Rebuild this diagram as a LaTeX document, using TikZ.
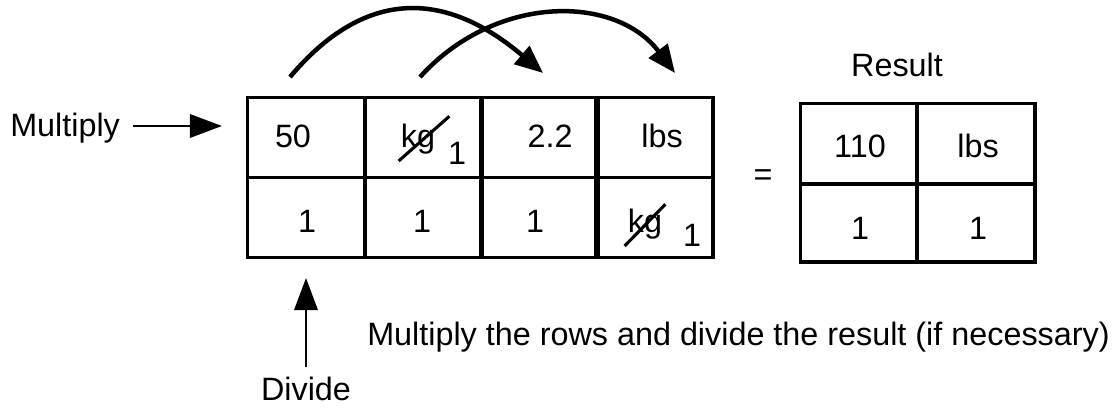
\documentclass[tikz,border=0pt]{standalone}
\usepackage{fontspec}
\setmainfont{Liberation Sans}
\usepackage{tikz}
\usetikzlibrary{arrows.meta, calc, positioning}
\tikzset{
    cell/.style={draw, line width=2.2pt, minimum width=2.925cm, minimum height=2cm, inner sep=0pt},
    txt/.style={inner sep=0pt, anchor=base, font=\fontsize{23}{28}\selectfont},
    sub/.style={inner sep=0pt, anchor=base, font=\fontsize{23}{28}\selectfont},
    strike/.style={line width=2.2pt},
    hop/.style={line width=3.2pt, -{Triangle[length=0.7cm, width=0.58cm]}},
    pointer/.style={line width=2pt, -{Triangle[length=0.8cm, width=0.58cm]}}
}
\begin{document}
\begin{tikzpicture}[x=0.025cm, y=0.025cm]
    \useasboundingbox (0,0) rectangle (1115,414);

    % Main table: top row (numerator) and bottom row (denominator)
    \foreach \i/\x in {1/306, 2/423.5, 3/539.5, 4/654.5} {
        \node[cell] (top\i) at (\x,276.5) {};
        \node[cell] (bot\i) at (\x,196.5) {};
    }

    % Top row
    \node[txt] (fifty) at (293,266) {50};
    \node[txt] (kgtop) at (418,266) {kg};
    \node[sub] (onetop) at (457,249) {1};
    \node[txt] (factor) at (550,266) {2.2};
    \node[txt] (lbstop) at (662,266) {lbs};
    \draw[strike] ($(kgtop.south west)+(-2,-6)$) -- ($(kgtop.north east)+(14,8)$);

    % Bottom row
    \node[txt] (onea) at (307,181) {1};
    \node[txt] (oneb) at (422,181) {1};
    \node[txt] (onec) at (535,181) {1};
    \node[txt] (kgbot) at (645,181) {kg};
    \node[sub] (onebot) at (692,167) {1};
    \draw[strike] ($(kgbot.south west)+(-3,-6)$) -- ($(kgbot.north east)+(3,5)$);

    % Result table
    \node[txt] (result) at (897,337) {Result};
    \node[cell, minimum width=2.925cm, minimum height=2.0cm] (restop1) at (859,270.5) {};
    \node[cell, minimum width=2.95cm, minimum height=2.0cm] (restop2) at (976,270.5) {};
    \node[cell, minimum width=2.925cm, minimum height=1.95cm] (resbot1) at (859,191) {};
    \node[cell, minimum width=2.95cm, minimum height=1.95cm] (resbot2) at (976,191) {};
    \node[txt] (hundred) at (860,256) {110};
    \node[txt] (reslbs) at (978,256) {lbs};
    \node[txt] (resone) at (860,174) {1};
    \node[txt] (restwo) at (978,174) {1};

    % Equals sign
    \node[font=\fontsize{23}{28}\selectfont, inner sep=0pt] (equals) at (763,236) {=};

    % Side labels
    \node[txt, anchor=base west] (multiply) at (10,277) {Multiply};
    \coordinate (mulstart) at (133,288);
    \coordinate (mulend) at (222,288);
    \draw[pointer] (mulstart) -- (mulend);

    \node[txt] (divide) at (306,14) {Divide};
    \coordinate (divstart) at (306,47);
    \coordinate (divend) at (306,136);
    \draw[pointer] (divstart) -- (divend);

    \node[txt, anchor=base west] (note) at (367,69) {Multiply the rows and divide the result (if necessary)};

    % Curved arrows over the table
    \coordinate (arcAstart) at (290,337);
    \coordinate (arcAend) at (543,341);
    \coordinate (arcBstart) at (420,337);
    \coordinate (arcBend) at (675,341);
    \draw[hop] (arcAstart) .. controls (364,425) and (444,425) .. (arcAend);
    \draw[hop] (arcBstart) .. controls (495,420) and (615,420) .. (arcBend);
\end{tikzpicture}
\end{document}
